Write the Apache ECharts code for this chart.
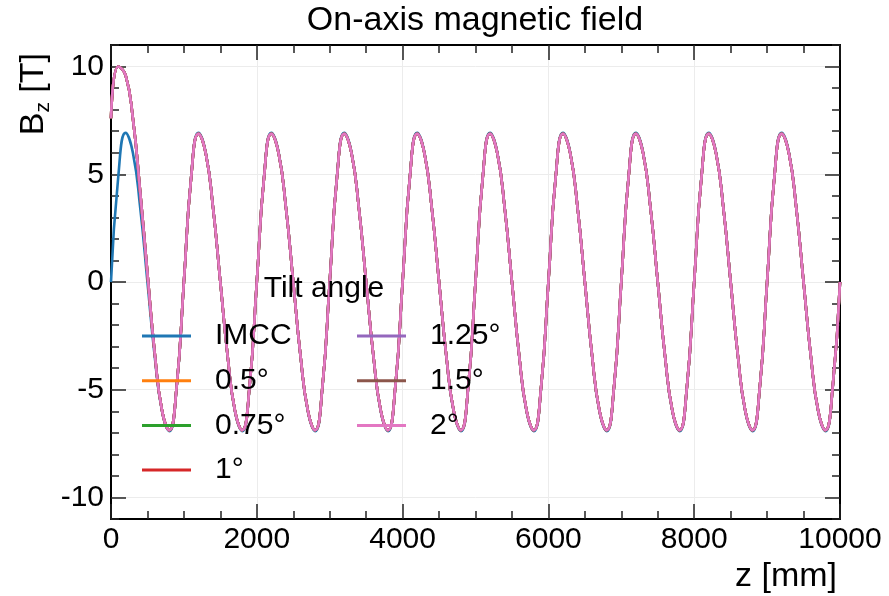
<!DOCTYPE html>
<html lang="en">
<head>
    <meta charset="UTF-8">
    <title>On-axis magnetic field</title>
    <script src="https://cdn.jsdelivr.net/npm/echarts@6/dist/echarts.min.js"></script>
</head>
<body>
<div id="chart" style="width: 889px;height: 596px"></div>
</body>
<script>
// z positions along the axis [mm]
const zMm = [
    0, 100, 200, 300, 400, 500, 600, 700, 800, 900,
    1000, 1100, 1200, 1300, 1400, 1500, 1600, 1700, 1800, 1900,
    2000, 2100, 2200, 2300, 2400, 2500, 2600, 2700, 2800, 2900,
    3000, 3100, 3200, 3300, 3400, 3500, 3600, 3700, 3800, 3900,
    4000, 4100, 4200, 4300, 4400, 4500, 4600, 4700, 4800, 4900,
    5000, 5100, 5200, 5300, 5400, 5500, 5600, 5700, 5800, 5900,
    6000, 6100, 6200, 6300, 6400, 6500, 6600, 6700, 6800, 6900,
    7000, 7100, 7200, 7300, 7400, 7500, 7600, 7700, 7800, 7900,
    8000, 8100, 8200, 8300, 8400, 8500, 8600, 8700, 8800, 8900,
    9000, 9100, 9200, 9300, 9400, 9500, 9600, 9700, 9800, 9900,
    10000
]

// Bz [T] for the IMCC lattice
const bzImcc = [
    0, 4.9, 6.92, 6.0, 3.46, 0, -3.46, -6.0, -6.92, -4.9,
    0, 4.9, 6.92, 6.0, 3.46, 0, -3.46, -6.0, -6.92, -4.9,
    0, 4.9, 6.92, 6.0, 3.46, 0, -3.46, -6.0, -6.92, -4.9,
    0, 4.9, 6.92, 6.0, 3.46, 0, -3.46, -6.0, -6.92, -4.9,
    0, 4.9, 6.92, 6.0, 3.46, 0, -3.46, -6.0, -6.92, -4.9,
    0, 4.9, 6.92, 6.0, 3.46, 0, -3.46, -6.0, -6.92, -4.9,
    0, 4.9, 6.92, 6.0, 3.46, 0, -3.46, -6.0, -6.92, -4.9,
    0, 4.9, 6.92, 6.0, 3.46, 0, -3.46, -6.0, -6.92, -4.9,
    0, 4.9, 6.92, 6.0, 3.46, 0, -3.46, -6.0, -6.92, -4.9,
    0, 4.9, 6.92, 6.0, 3.46, 0, -3.46, -6.0, -6.92, -4.9,
    0
]

// Bz [T] with a tilted first coil (all tilt angles overlap on the plot)
const bzTilt = [
    7.6, 10.0, 9.6, 7.6, 4.2, 0.4, -3.3, -5.96, -6.88, -4.87,
    0, 4.87, 6.88, 5.96, 3.44, 0, -3.44, -5.96, -6.88, -4.87,
    0, 4.87, 6.88, 5.96, 3.44, 0, -3.44, -5.96, -6.88, -4.87,
    0, 4.87, 6.88, 5.96, 3.44, 0, -3.44, -5.96, -6.88, -4.87,
    0, 4.87, 6.88, 5.96, 3.44, 0, -3.44, -5.96, -6.88, -4.87,
    0, 4.87, 6.88, 5.96, 3.44, 0, -3.44, -5.96, -6.88, -4.87,
    0, 4.87, 6.88, 5.96, 3.44, 0, -3.44, -5.96, -6.88, -4.87,
    0, 4.87, 6.88, 5.96, 3.44, 0, -3.44, -5.96, -6.88, -4.87,
    0, 4.87, 6.88, 5.96, 3.44, 0, -3.44, -5.96, -6.88, -4.87,
    0, 4.87, 6.88, 5.96, 3.44, 0, -3.44, -5.96, -6.88, -4.87,
    0
]

const seriesNames = ['IMCC', '0.5°', '0.75°', '1°', '1.25°', '1.5°', '2°']
const seriesColors = ['#1f77b4', '#ff7f0e', '#2ca02c', '#d62728', '#9467bd', '#8c564b', '#e377c2']
const xTicks = [0, 2000, 4000, 6000, 8000, 10000]
const yTicks = [-10, -5, 0, 5, 10]

const font = "'Liberation Sans', Arial, sans-serif"
const gridColor = '#ececec'

function pairs(values) {
    return zMm.map((z, i) => [z, values[i]])
}

const series = seriesNames.map((name, i) => ({
    name: name,
    type: 'line',
    xAxisIndex: 0,
    yAxisIndex: 0,
    data: pairs(i === 0 ? bzImcc : bzTilt),
    showSymbol: false,
    smooth: true,
    lineStyle: {width: 2.6, color: seriesColors[i]},
    itemStyle: {color: seriesColors[i]},
    z: 2
}))

const tickStyle = {color: '#222', width: 1.5}

const legendBase = {
    orient: 'vertical',
    padding: 0,
    z: 20,
    icon: 'rect',
    itemWidth: 49,
    itemHeight: 3,
    itemGap: 14.7,
    selectedMode: false,
    textStyle: {fontFamily: font, fontSize: 30, lineHeight: 30, color: '#000', padding: [0, 0, 0, 19]}
}

const chart = echarts.init(document.getElementById('chart'))
const option = {
    animation: false,
    backgroundColor: '#fff',
    textStyle: {fontFamily: font},
    grid: [
        {left: 111, right: 49, top: 45, bottom: 77, containLabel: false, outerBoundsMode: 'none'},
        {left: 111, right: 49, top: 66.545, bottom: 98.545, containLabel: false, outerBoundsMode: 'none'}
    ],
    xAxis: [
        {
            type: 'value', gridIndex: 0, position: 'bottom', min: xTicks[0], max: xTicks[xTicks.length - 1], interval: 2000,
            axisLine: {show: true, onZero: false, lineStyle: {color: '#000', width: 2}},
            axisTick: {show: true, inside: true, length: 15, lineStyle: tickStyle},
            minorTick: {show: true, splitNumber: 4, length: 8, lineStyle: tickStyle},
            axisLabel: {
                show: true, margin: 6, fontSize: 30, color: '#000', fontFamily: font,
                showMinLabel: true, showMaxLabel: true,
                formatter: v => String(v)
            },
            splitLine: {show: true, lineStyle: {color: gridColor, width: 1}}
        },
        {
            type: 'value', gridIndex: 0, position: 'top', min: xTicks[0], max: xTicks[xTicks.length - 1], interval: 2000,
            axisLine: {show: true, onZero: false, lineStyle: {color: '#000', width: 2}},
            axisTick: {show: true, inside: true, length: 15, lineStyle: tickStyle},
            minorTick: {show: true, splitNumber: 4, length: 8, lineStyle: tickStyle},
            axisLabel: {show: false},
            splitLine: {show: false}
        },
        {type: 'value', gridIndex: 1, min: 0, max: 10000, show: false}
    ],
    yAxis: [
        {
            type: 'value', gridIndex: 0, position: 'left', min: -11, max: 11, interval: 1,
            axisLine: {show: true, onZero: false, lineStyle: {color: '#000', width: 2}},
            axisTick: {show: true, inside: true, length: 8, lineStyle: tickStyle},
            axisLabel: {show: false},
            splitLine: {show: false}
        },
        {
            type: 'value', gridIndex: 0, position: 'right', min: -11, max: 11, interval: 1,
            axisLine: {show: true, onZero: false, lineStyle: {color: '#000', width: 2}},
            axisTick: {show: true, inside: true, length: 8, lineStyle: tickStyle},
            axisLabel: {show: false},
            splitLine: {show: false}
        },
        {
            type: 'value', gridIndex: 1, position: 'left', min: yTicks[0], max: yTicks[yTicks.length - 1], interval: 5,
            axisLine: {show: false},
            axisTick: {show: true, inside: true, length: 15, lineStyle: tickStyle},
            axisLabel: {show: true, margin: 7, fontSize: 30, color: '#000', fontFamily: font},
            splitLine: {show: true, lineStyle: {color: gridColor, width: 1}}
        },
        {
            type: 'value', gridIndex: 1, position: 'right', min: yTicks[0], max: yTicks[yTicks.length - 1], interval: 5,
            axisLine: {show: false},
            axisTick: {show: true, inside: true, length: 15, lineStyle: tickStyle},
            axisLabel: {show: false},
            splitLine: {show: false}
        }
    ],
    legend: [
        Object.assign({}, legendBase, {left: 142, top: 321, data: seriesNames.slice(0, 4)}),
        Object.assign({}, legendBase, {left: 357, top: 321, data: seriesNames.slice(4)})
    ],
    graphic: [
        {
            type: 'text', x: 475, y: 21, z: 20,
            style: {text: 'On-axis magnetic field', font: '34px ' + font, fill: '#000', align: 'center', verticalAlign: 'middle'}
        },
        {
            type: 'text', x: 324, y: 289, z: 20,
            style: {text: 'Tilt angle', font: '30px ' + font, fill: '#000', align: 'center', verticalAlign: 'middle'}
        },
        {
            type: 'text', x: 837, y: 577, z: 20,
            style: {text: 'z [mm]', font: '34px ' + font, fill: '#000', align: 'right', verticalAlign: 'middle'}
        },
        {
            type: 'text', x: 34, y: 53, z: 20, rotation: Math.PI / 2,
            style: {
                text: '{b|B}{s|z}{b| [T]}',
                align: 'right',
                verticalAlign: 'middle',
                fill: '#000',
                rich: {
                    b: {fontSize: 34, fontFamily: font, lineHeight: 40, fill: '#000'},
                    s: {fontSize: 21, fontFamily: font, lineHeight: 26, verticalAlign: 'bottom', fill: '#000'}
                }
            }
        }
    ],
    series: series
}
chart.setOption(option)
</script>
<style>
    html, body {
        margin: 0;
        padding: 0;
        background: #fff;
    }
</style>
</html>
